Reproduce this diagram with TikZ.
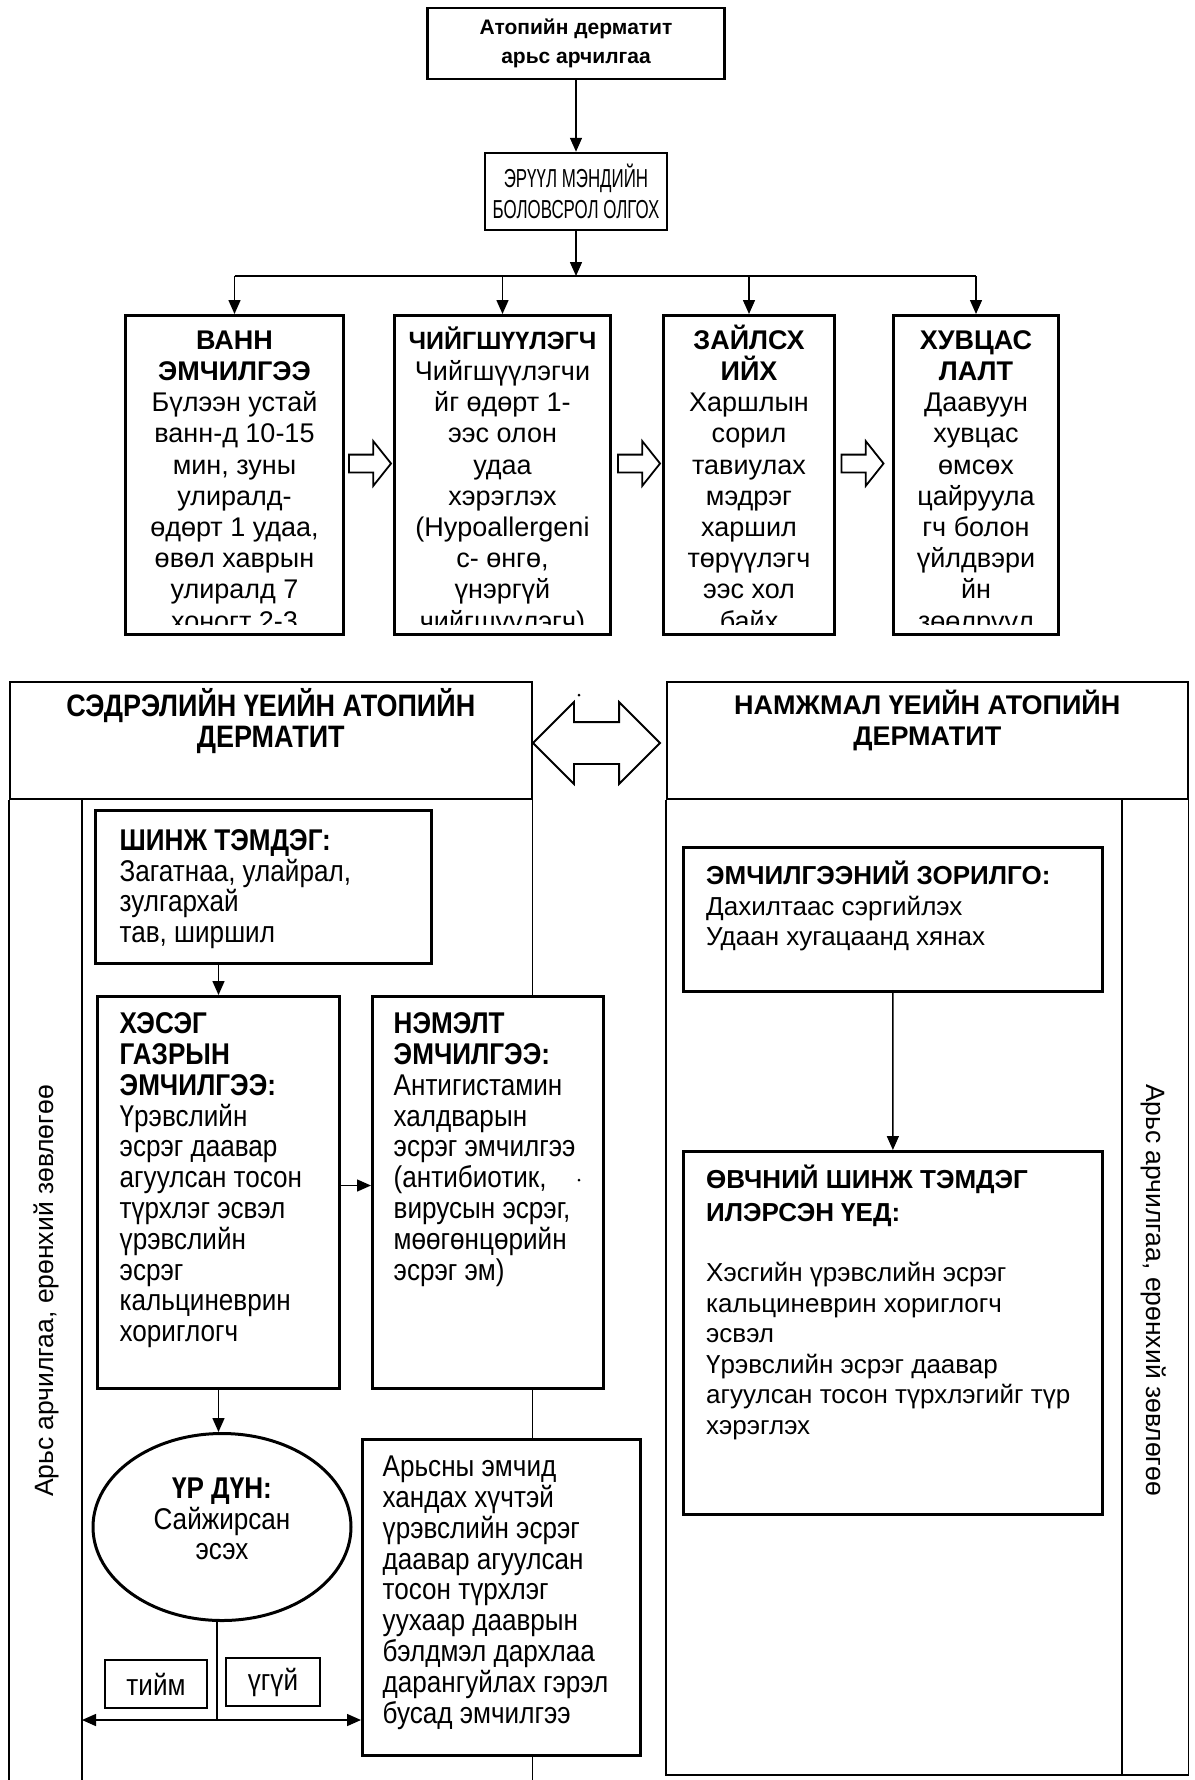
\documentclass[tikz,border=0pt]{standalone}
\usepackage{fontspec}
\setmainfont{Liberation Sans}
\newfontfamily\narrowsans[FakeStretch=0.87]{Liberation Sans}
\newfontfamily\condsans[FakeStretch=0.65]{Liberation Sans}
\usetikzlibrary{shapes,arrows.meta,positioning}

\newcommand\stepfont{\fontsize{27}{31.2}\selectfont}
\newcommand\leftfont{\narrowsans\fontsize{30}{30.8}\selectfont}
\newcommand\rightfont{\fontsize{26}{30.5}\selectfont}
\newcommand\strutto[1]{\rule{0pt}{#1}}

\tikzstyle{headbox} = [draw=black, line width=2.5pt, rectangle, inner sep=0pt, align=center]
\tikzstyle{stepbox} = [draw=black, line width=3pt, rectangle, anchor=north west,
                       minimum height=319pt]
\tikzstyle{steptext} = [anchor=north, inner sep=0pt, align=center, font=\stepfont]
\tikzstyle{hollow} = [draw=black, line width=1.8pt, single arrow, minimum height=42pt,
                      inner xsep=0pt, inner ysep=8pt, single arrow head extend=13.5pt,
                      single arrow tip angle=103]
\tikzstyle{swaparrow} = [draw=black, line width=1.8pt, double arrow, minimum height=127pt,
                         inner xsep=0pt, inner ysep=20pt, double arrow head extend=20pt]
\tikzstyle{panel} = [draw=black, line width=1.5pt]
\tikzstyle{casebox} = [draw=black, line width=3pt, rectangle, anchor=north west, fill=white]
\tikzstyle{lefttext} = [anchor=north west, inner sep=0pt, align=left, font=\leftfont]
\tikzstyle{righttext} = [anchor=north west, inner sep=0pt, align=left, font=\rightfont]
\tikzstyle{answer} = [draw=black, line width=1.5pt, rectangle, font=\leftfont]
\tikzstyle{sidenote} = [font=\fontsize{26.5}{30}\selectfont, inner sep=0pt]
\tikzstyle{link} = [line width=1.5pt, -{Triangle[length=14pt,width=12pt]}]

\begin{document}
\begin{tikzpicture}[x=1pt,y=-1pt]%
  \useasboundingbox (0,0) rectangle (1194,1780);
  \node[headbox, minimum width=297pt, minimum height=71pt,
        font=\bfseries\fontsize{21}{29}\selectfont] (root) at (576,43.5)
        {Атопийн дерматит\\арьс арчилгаа};
  \node[headbox, minimum width=182pt, minimum height=77pt,
        font=\condsans\fontsize{26}{31}\selectfont] (educ) at (576,191.5)
        {ЭРҮҮЛ МЭНДИЙН\\БОЛОВСРОЛ ОЛГОХ};
  \draw[link] (root) -- (educ);
  \coordinate (fork) at (576,276);
  \draw[link] (educ) -- (fork);

  \node[stepbox, minimum width=218pt] (bath) at (124,314) {};
  \node[stepbox, minimum width=216pt] (moist) at (393,314) {};
  \node[stepbox, minimum width=171pt] (avoid) at (662,314) {};
  \node[stepbox, minimum width=165pt] (cloth) at (892,314) {};
  \draw[line width=1.5pt] (fork -| bath.north) -- (fork -| cloth.north);
  \draw[link] (fork -| bath.north) -- (bath.north);
  \draw[link] (fork -| moist.north) -- (moist.north);
  \draw[link] (fork -| avoid.north) -- (avoid.north);
  \draw[link] (fork -| cloth.north) -- (cloth.north);

  \begin{scope}
    \clip (bath.north west) rectangle ([yshift=12pt]bath.south east);
    \node[steptext] (bathtext) at ([yshift=-9.5pt]bath.north)
      {\strutto{25.65pt}\textbf{ВАНН}\\\textbf{ЭМЧИЛГЭЭ}\\Бүлээн устай\\ванн-д 10-15\\мин, зуны\\
       улиралд-\\өдөрт 1 удаа,\\өвөл хаврын\\улиралд 7\\хоногт 2-3};
  \end{scope}
  \begin{scope}
    \clip (moist.north west) rectangle ([yshift=12pt]moist.south east);
    \node[steptext] (moisttext) at ([yshift=-9.5pt]moist.north)
      {\strutto{25.65pt}\textbf{\fontsize{25}{31.2}\selectfont ЧИЙГШҮҮЛЭГЧ}\\Чийгшүүлэгчи\\
       йг өдөрт 1-\\ээс олон\\удаа\\хэрэглэх\\(Hypoallergeni\\c- өнгө,\\үнэргүй\\чийгшүүлэгч)};
  \end{scope}
  \begin{scope}
    \clip (avoid.north west) rectangle ([yshift=12pt]avoid.south east);
    \node[steptext] (avoidtext) at ([yshift=-9.5pt]avoid.north)
      {\strutto{25.65pt}\textbf{ЗАЙЛСХ}\\\textbf{ИЙХ}\\Харшлын\\сорил\\тавиулах\\мэдрэг\\
       харшил\\төрүүлэгч\\ээс хол\\байх};
  \end{scope}
  \begin{scope}
    \clip (cloth.north west) rectangle ([yshift=12pt]cloth.south east);
    \node[steptext] (clothtext) at ([yshift=-9.5pt]cloth.north)
      {\strutto{25.65pt}\textbf{ХУВЦАС}\\\textbf{ЛАЛТ}\\Даавуун\\хувцас\\өмсөх\\цайруула\\
       гч болон\\үйлдвэри\\йн\\зөөлрүүл};
  \end{scope}
  \node[hollow] (next1) at (366.5,463.5) {};
  \node[hollow] (next2) at (635.5,463.5) {};
  \node[hollow] (next3) at (859,463.5) {};

  \coordinate (floor) at (0,1780);
  \coordinate (rfloor) at (0,1775);
  \node[panel, rectangle, minimum width=522pt, minimum height=117pt, anchor=north west,
        inner sep=0pt] (lefthead) at (9,681) {};
  \draw[panel] (lefthead.south west) -- (lefthead.south west |- floor);
  \draw[panel] (lefthead.south east) -- (lefthead.south east |- floor);
  \coordinate (ldiv) at (82,798);
  \draw[panel] (ldiv) -- (ldiv |- floor);
  \node[anchor=north, inner sep=0pt, align=center,
        font=\narrowsans\fontsize{31}{31}\selectfont\bfseries] (lefttitle)
    at ([yshift=-6pt]lefthead.north) {\strutto{29.5pt}СЭДРЭЛИЙН ҮЕИЙН АТОПИЙН\\ДЕРМАТИТ};

  \node[panel, rectangle, minimum width=521pt, minimum height=117pt, anchor=north west,
        inner sep=0pt] (righthead) at (666,681) {};
  \draw[panel] (righthead.south west) -- (righthead.south west |- rfloor)
    -- (righthead.south east |- rfloor) -- (righthead.south east);
  \coordinate (rdiv) at (1122,798);
  \draw[panel] (rdiv) -- (rdiv |- rfloor);
  \node[anchor=north, inner sep=0pt, align=center,
        font=\fontsize{27}{31}\selectfont\bfseries] (righttitle)
    at ([yshift=-8pt]righthead.north) {\strutto{25.65pt}НАМЖМАЛ ҮЕИЙН АТОПИЙН\\ДЕРМАТИТ};

  \node[swaparrow] (swap) at (596.5,743) {};
  \fill (579,695) circle (1.5pt);

  \node[casebox, minimum width=336pt, minimum height=153pt] (symp) at (94,809) {};
  \node[lefttext] (symptext) at ([xshift=25.5pt,yshift=-12.5pt]symp.north west)
    {\strutto{28.5pt}\textbf{ШИНЖ ТЭМДЭГ:}\\Загатнаа, улайрал,\\зулгархай\\тав, ширшил};
  \node[casebox, minimum width=242pt, minimum height=392pt] (local) at (96,995) {};
  \node[lefttext] (localtext) at ([xshift=23.5pt,yshift=-10pt]local.north west)
    {\strutto{28.5pt}\textbf{ХЭСЭГ}\\\textbf{ГАЗРЫН}\\\textbf{ЭМЧИЛГЭЭ:}\\Үрэвслийн\\эсрэг даавар\\
     агуулсан тосон\\түрхлэг эсвэл\\үрэвслийн\\эсрэг\\кальциневрин\\хориглогч};
  \node[casebox, minimum width=231pt, minimum height=392pt] (addtx) at (371,995) {};
  \node[lefttext] (addtxtext) at ([xshift=22.5pt,yshift=-10pt]addtx.north west)
    {\strutto{28.5pt}\textbf{НЭМЭЛТ}\\\textbf{ЭМЧИЛГЭЭ:}\\Антигистамин\\халдварын\\эсрэг эмчилгээ\\
     (антибиотик,\\вирусын эсрэг,\\мөөгөнцөрийн\\эсрэг эм)};
  \fill (579,1180) circle (1.5pt);
  \draw[link] (symp.south -| local.north) -- (local.north);
  \draw[link] ([yshift=7pt]local.east) -- ([yshift=7pt]addtx.west);

  \node[draw, ellipse, line width=3pt, minimum width=258pt, minimum height=187pt,
        fill=white] (result) at (222,1527) {};
  \node[align=center, inner sep=0pt, font=\leftfont] (resulttext) at ([yshift=8pt]result.center)
    {\textbf{ҮР ДҮН:}\\Сайжирсан\\эсэх};
  \draw[link] (local.south) -- (local.south |- result.north);

  \node[casebox, minimum width=278pt, minimum height=316pt] (refer) at (361,1438) {};
  \node[lefttext] (refertext) at ([xshift=21.5pt,yshift=-10pt]refer.north west)
    {\strutto{28.5pt}Арьсны эмчид\\хандах хүчтэй\\үрэвслийн эсрэг\\даавар агуулсан\\
     тосон түрхлэг\\уухаар дааврын\\бэлдмэл дархлаа\\дарангуйлах гэрэл\\бусад эмчилгээ};

  \coordinate (split) at (217,1720);
  \draw[line width=1.5pt] (result.south -| split) -- (split);
  \draw[line width=1.5pt, {Triangle[length=14pt,width=12pt]}-{Triangle[length=14pt,width=12pt]}]
    (ldiv |- split) -- (refer.west |- split);
  \node[answer, minimum width=102pt, minimum height=48pt] (yes) at (156,1684) {тийм};
  \node[answer, minimum width=94pt, minimum height=48pt] (no) at (273,1682) {үгүй};

  \node[sidenote, rotate=90] (careleft) at (46,1291) {Арьс арчилгаа, ерөнхий зөвлөгөө};
  \node[sidenote, rotate=-90] (careright) at (1154,1290) {Арьс арчилгаа, ерөнхий зөвлөгөө};

  \node[casebox, line width=2.5pt, minimum width=419pt, minimum height=144pt] (goal) at (682,846) {};
  \node[righttext] (goaltext) at ([xshift=24pt,yshift=-14pt]goal.north west)
    {\strutto{24.7pt}\textbf{ЭМЧИЛГЭЭНИЙ ЗОРИЛГО:}\\Дахилтаас сэргийлэх\\Удаан хугацаанд хянах};
  \node[casebox, minimum width=419pt, minimum height=363pt] (sign) at (682,1150) {};
  \node[righttext] (signtext) at ([xshift=24pt,yshift=-14pt]sign.north west)
    {\strutto{24.7pt}\textbf{ӨВЧНИЙ ШИНЖ ТЭМДЭГ}\\[2.5pt]\textbf{ИЛЭРСЭН ҮЕД:}\\[29.5pt]
     Хэсгийн үрэвслийн эсрэг\\кальциневрин хориглогч\\эсвэл\\Үрэвслийн эсрэг даавар\\
     агуулсан тосон түрхлэгийг түр\\хэрэглэх};
  \draw[link] (goal) -- (sign);
\end{tikzpicture}
\end{document}
